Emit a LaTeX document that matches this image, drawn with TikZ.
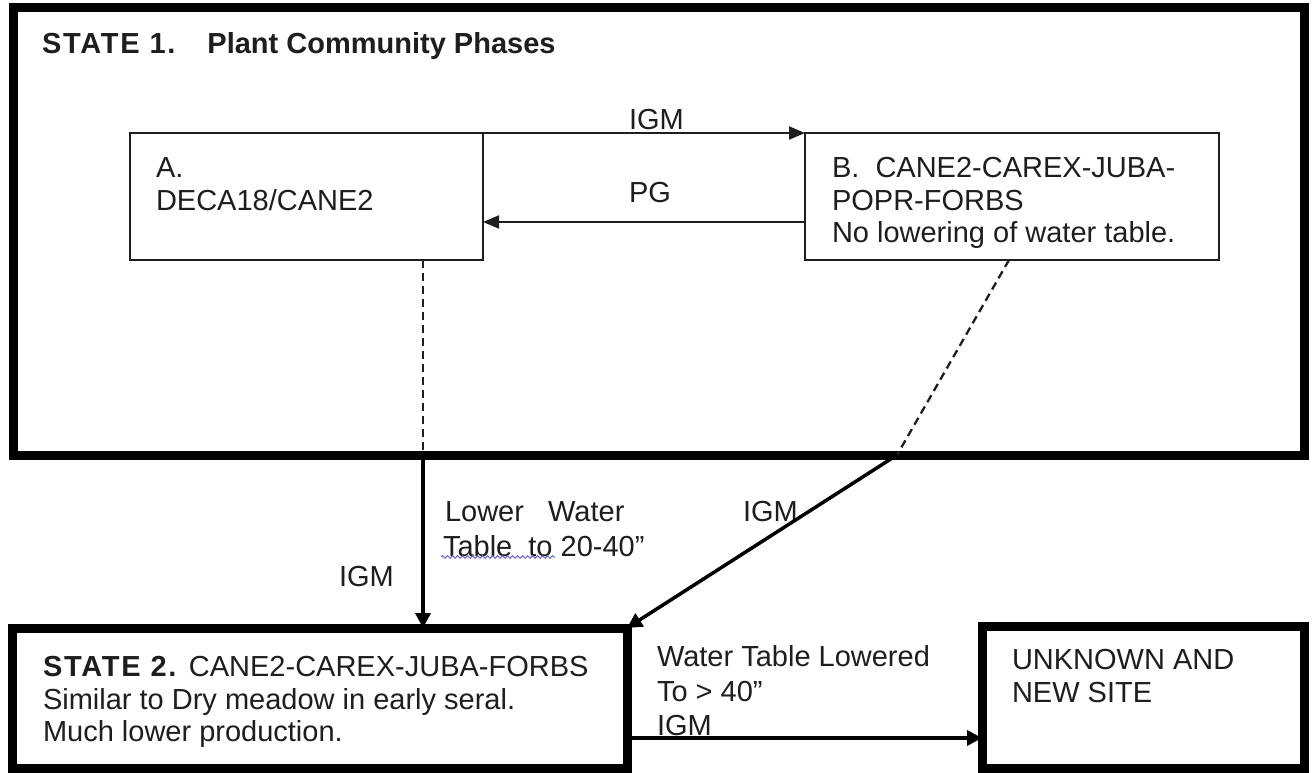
\documentclass[tikz,border=0pt]{standalone}
\usepackage{fontspec}
\setmainfont{Liberation Sans}
\usetikzlibrary{arrows.meta,decorations.pathmorphing}
\definecolor{ink}{HTML}{1E1E1E}
\definecolor{squig}{HTML}{6A6AC8}
\newcommand{\spacedcaps}[1]{{\addfontfeature{LetterSpace=6}#1}}
\begin{document}
\begin{tikzpicture}[x=1pt,y=-1pt,
  thinbox/.style={draw=ink, line width=2pt, inner sep=0pt, outer sep=0pt, rectangle},
  thickbox/.style={draw=black, line width=9pt, inner sep=0pt, outer sep=0pt, rectangle},
  txt/.style={anchor=north west, inner sep=0pt, outer sep=0pt, align=left, text=ink,
              font=\fontsize{29}{32.5}\selectfont},
  thinarrow/.style={draw=ink, line width=2pt, -{Triangle[length=16pt,width=13pt]}},
  bigarrow/.style={draw=black, line width=3.5pt, -{Triangle[length=15pt,width=15pt]}},
  dashline/.style={draw=ink, line width=2.3pt, dash pattern=on 8pt off 5pt},
  solidline/.style={draw=black, line width=3.5pt}]
\useasboundingbox (0,0) rectangle (1315,773);
\fill[white] (0,0) rectangle (1315,773);

% boxes
\node[thickbox, minimum width=1291pt, minimum height=447pt] (S1) at (658.5,231.5) {};
\node[thinbox, minimum width=353pt, minimum height=127pt] (A) at (306.5,196.5) {};
\node[thinbox, minimum width=414pt, minimum height=127pt] (B) at (1012,196.5) {};
\node[thickbox, minimum width=615pt, minimum height=140pt] (S2) at (319.5,698) {};
\node[thickbox, minimum width=322pt, minimum height=142pt] (U) at (1143,697) {};

% texts
\node[txt] (t1) at (42,32.6) {\bfseries \spacedcaps{STATE 1.}\hskip 32pt Plant Community Phases};
\node[txt] (tA) at (156,157.6) {A.\\DECA18/CANE2};
\node[txt] (tB) at (832,157.6) {B.\ \ CANE2-CAREX-JUBA-\\POPR-FORBS\\No lowering of water table.};
\node[txt] (tS2) at (43,656.6) {\textbf{\spacedcaps{STATE 2.}} CANE2-CAREX-JUBA-FORBS\\Similar to Dry meadow in early seral.\\Much lower production.};
\node[txt] (tU) at (1012,649.6) {UNKNOWN AND\\NEW SITE};

% connector labels
\node[txt] (lIGM1) at (629,109.6) {IGM};
\node[txt] (lPG) at (629,182.6) {PG};
\node[txt, font=\fontsize{29}{35}\selectfont] (lLW) at (443,501.6) {\hskip 2pt Lower\ \ \ Water\\Table\ \ to 20-40”};
\node[txt] (lIGM2) at (339,566.6) {IGM};
\node[txt] (lIGM3) at (743,501.6) {IGM};
\node[txt, font=\fontsize{29}{34.5}\selectfont] (lWT) at (657,645.6) {Water Table Lowered\\To > 40”\\IGM};

% spell-check squiggle
\draw[squig, line width=1pt, decorate, decoration={snake, amplitude=1.3pt, segment length=5pt}]
  (441,557) -- (555,557);

% connectors
\draw[thinarrow] (A.north east) -- (B.north west);
\draw[thinarrow] ([yshift=-25.5pt]B.west) -- ([yshift=-25.5pt]A.east);

\coordinate (dA) at (423,455);
\draw[dashline] (A.south -| dA) -- (dA);
\draw[bigarrow] (dA) -- (dA |- S2.north);

\coordinate (dB) at (897,455);
\draw[dashline] ([xshift=-3pt]B.south) -- (dB);
\draw[bigarrow] (dB) -- (S2.north east);

\coordinate (h) at (0,738);
\draw[bigarrow] (S2.east |- h) -- (U.west |- h);
\end{tikzpicture}
\end{document}
